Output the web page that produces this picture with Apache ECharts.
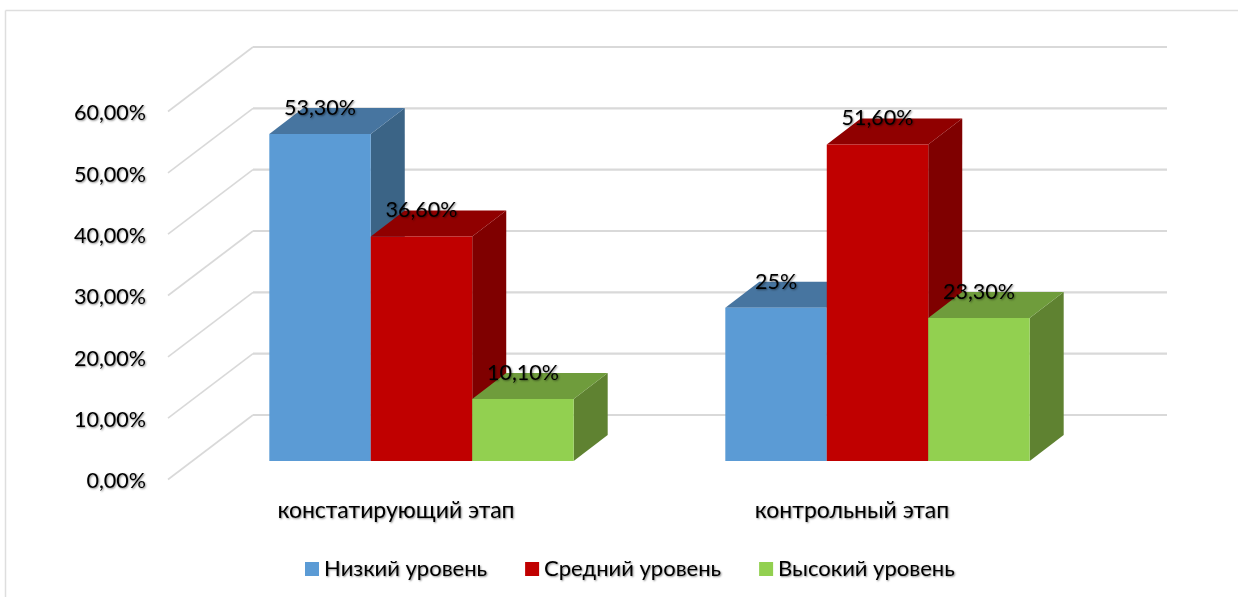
<!DOCTYPE html>
<html>
<head>
<meta charset="utf-8">
<style>
  html, body { margin: 0; padding: 0; background: #fff; }
  #main { width: 1238px; height: 597px; }
</style>
<script src="https://cdn.jsdelivr.net/npm/echarts@6/dist/echarts.min.js"></script>
</head>
<body>
<div id="main"></div>
<script>
var categories = ["констатирующий этап", "контрольный этап"];
var lowValues = [53.3, 25];
var midValues = [36.6, 51.6];
var highValues = [10.1, 23.3];
var lowLabels = ["53,30%", "25%"];
var midLabels = ["36,60%", "51,60%"];
var highLabels = ["10,10%", "23,30%"];
var yTicks = [0, 10, 20, 30, 40, 50, 60];
var seriesNames = ["Низкий уровень", "Средний уровень", "Высокий уровень"];

var fontName = "Lato, 'Noto Sans', sans-serif";
var textShadow = {
  textShadowColor: "rgba(0,0,0,0.45)",
  textShadowBlur: 2,
  textShadowOffsetX: 1,
  textShadowOffsetY: 1
};

// wall depth and how far the bars stand in front of the axis plane
var wallDx = 85, wallDy = -64.5;
var wallExtra = 2;
var barDx = 25.5, barDy = -18.5;
var depthX = 34, depthY = -26;
var barShare = 0.2225;

// gridlines on the back wall and the diagonal left wall
function renderWall(params, api) {
  var p = api.coord([0, api.value(0)]);
  var left = params.coordSys.x;
  var right = left + params.coordSys.width;
  return {
    type: "group",
    children: [
      {
        type: "line",
        shape: { x1: left, y1: p[1], x2: left + wallDx, y2: p[1] + wallDy },
        style: { stroke: "#d9d9d9", lineWidth: 1.6, fill: null }
      },
      {
        type: "line",
        shape: { x1: left + wallDx, y1: p[1] + wallDy, x2: right + wallDx + wallExtra, y2: p[1] + wallDy },
        style: { stroke: "#d9d9d9", lineWidth: 2.2, fill: null }
      }
    ]
  };
}

function makeBar(index, labels, front, top, side) {
  return function (params, api) {
    var w = api.size([1, 0])[0] * barShare;
    var catIdx = api.value(0);
    var t = api.coord([catIdx, api.value(1)]);
    var b = api.coord([catIdx, 0]);
    var x0 = t[0] + barDx + (index - 1.5) * w;
    var x1 = x0 + w;
    var yt = t[1] + barDy;
    var yb = b[1] + barDy;
    return {
      type: "group",
      children: [
        {
          type: "polygon",
          shape: { points: [[x1, yt], [x1 + depthX, yt + depthY], [x1 + depthX, yb + depthY], [x1, yb]] },
          style: { fill: side }
        },
        {
          type: "polygon",
          shape: { points: [[x0, yt], [x0 + depthX, yt + depthY], [x1 + depthX, yt + depthY], [x1, yt]] },
          style: { fill: top }
        },
        {
          type: "rect",
          shape: { x: x0, y: yt, width: w, height: yb - yt },
          style: { fill: front }
        },
        {
          type: "text",
          z2: 50,
          style: Object.assign({
            x: x0 + w / 2,
            y: yt - 26,
            text: labels[catIdx],
            fill: "#000",
            font: "21.5px " + fontName,
            align: "center",
            verticalAlign: "middle"
          }, textShadow)
        }
      ]
    };
  };
}

function pairs(values) {
  return values.map(function (v, i) { return [i, v]; });
}

var chart = echarts.init(document.getElementById("main"), null, { renderer: "canvas" });

var option = {
  backgroundColor: "#fff",
  animation: false,
  graphic: [
    { type: "line", shape: { x1: 5.5, y1: 10.5, x2: 1238, y2: 10.5 }, style: { stroke: "#dedede", lineWidth: 1.5 } },
    { type: "line", shape: { x1: 5.5, y1: 10.5, x2: 5.5, y2: 597 }, style: { stroke: "#dedede", lineWidth: 1.5 } }
  ],
  legend: {
    data: seriesNames,
    left: 300,
    top: 553,
    icon: "rect",
    itemWidth: 14,
    itemHeight: 14,
    itemGap: 38,
    textStyle: Object.assign({ color: "#000", fontSize: 22, fontFamily: fontName }, textShadow)
  },
  grid: { left: 168, right: 158, top: 111.5, bottom: 117.5 },
  xAxis: {
    type: "category",
    data: categories,
    axisLine: { show: false },
    axisTick: { show: false },
    axisLabel: Object.assign({ color: "#000", fontSize: 23, fontFamily: fontName, margin: 20 }, textShadow)
  },
  yAxis: {
    type: "value",
    min: 0,
    max: 60,
    interval: 10,
    splitLine: { show: false },
    axisLine: { show: false },
    axisTick: { show: false },
    axisLabel: Object.assign({
      color: "#000",
      fontSize: 21.5,
      fontFamily: fontName,
      margin: 22,
      verticalAlign: "top",
      lineHeight: 4,
      formatter: function (v) { return v.toFixed(2).replace(".", ",") + "%"; }
    }, textShadow)
  },
  series: [
    {
      type: "custom",
      name: "wall",
      renderItem: renderWall,
      data: yTicks.map(function (v) { return [v]; }),
      encode: { y: 0 },
      silent: true,
      z: 1
    },
    {
      type: "custom",
      name: seriesNames[0],
      renderItem: makeBar(0, lowLabels, "#5b9bd5", "#4775a0", "#3b6486"),
      itemStyle: { color: "#5b9bd5" },
      data: pairs(lowValues),
      encode: { x: 0, y: 1 },
      z: 2
    },
    {
      type: "custom",
      name: seriesNames[1],
      renderItem: makeBar(1, midLabels, "#c00000", "#900000", "#7f0000"),
      itemStyle: { color: "#c00000" },
      data: pairs(midValues),
      encode: { x: 0, y: 1 },
      z: 3
    },
    {
      type: "custom",
      name: seriesNames[2],
      renderItem: makeBar(2, highLabels, "#92d050", "#6f9c3c", "#5f8231"),
      itemStyle: { color: "#92d050" },
      data: pairs(highValues),
      encode: { x: 0, y: 1 },
      z: 4
    }
  ]
};

chart.setOption(option);
</script>
</body>
</html>
